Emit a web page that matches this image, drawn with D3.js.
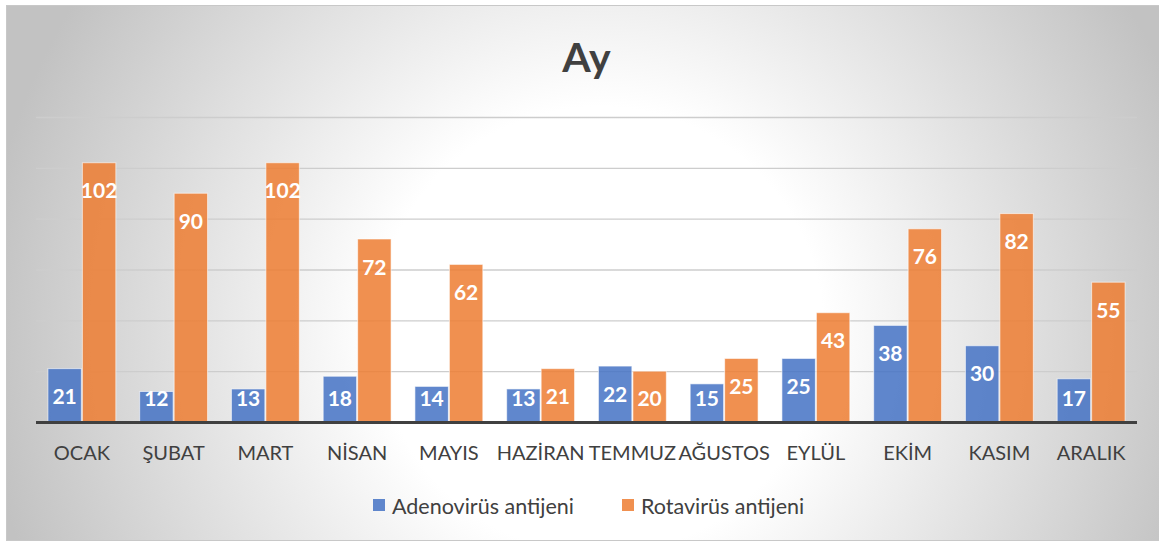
<!DOCTYPE html>
<html><head><meta charset="utf-8">
<script src="https://cdn.jsdelivr.net/npm/d3@7"></script>
<style>body{margin:0;background:#fff;}svg{display:block;}</style>
</head><body>
<svg id="c" width="1159" height="542"></svg>
<script>
const months = ["OCAK","ŞUBAT","MART","NİSAN","MAYIS","HAZİRAN","TEMMUZ","AĞUSTOS","EYLÜL","EKİM","KASIM","ARALIK"];
const seriesNames = ["Adenovirüs antijeni","Rotavirüs antijeni"];
const adeno = [21,12,13,18,14,13,22,15,25,38,30,17];
const rota = [102,90,102,72,62,21,20,25,43,76,82,55];
const yTicks = [20,40,60,80,100,120];
const title = "Ay";
const colors = ["#4472C4","#ED7D31"];

const svg = d3.select("#c");
const defs = svg.append("defs");
const rg = defs.append("radialGradient").attr("id","bg").attr("gradientUnits","userSpaceOnUse")
  .attr("cx",600).attr("cy",330).attr("r",620);
rg.append("stop").attr("offset",0).attr("stop-color","#ffffff");
rg.append("stop").attr("offset",0.36).attr("stop-color","#ffffff");
rg.append("stop").attr("offset",1).attr("stop-color","#c2c2c2");
const lg = defs.append("linearGradient").attr("id","gl").attr("gradientUnits","userSpaceOnUse")
  .attr("x1",0).attr("y1",110).attr("x2",0).attr("y2",380);
lg.append("stop").attr("offset",0).attr("stop-color","#cdcdcd");
lg.append("stop").attr("offset",1).attr("stop-color","#8c8c8c");

svg.append("rect").attr("x",6.5).attr("y",5.5).attr("width",1160).attr("height",535)
  .attr("fill","url(#bg)").attr("stroke","#c8c8c8").attr("stroke-width",1);

const left = 36, right = 1137;
const x0 = d3.scaleBand().domain(months).range([left,right]).paddingInner(0.26).paddingOuter(0.13);
const x1 = d3.scaleBand().domain(seriesNames).range([0,x0.bandwidth()]).paddingInner(0.03);
const y = d3.scaleLinear().domain([0,120]).range([422,117]);

// gridlines
const grid = svg.append("g").attr("transform",`translate(${left},0)`)
  .call(d3.axisLeft(y).tickValues(yTicks).tickSize(-(right-left)).tickFormat(""));
grid.select(".domain").remove();
grid.selectAll("line").attr("stroke","url(#gl)").attr("stroke-width",1.3);

const data = months.map((m,i)=>({m, vals:[adeno[i], rota[i]]}));
const groups = svg.append("g").selectAll("g").data(data).join("g")
  .attr("transform",d=>`translate(${x0(d.m)},0)`);
groups.selectAll("rect").data(d=>d.vals.map((v,j)=>({v,s:seriesNames[j],j}))).join("rect")
  .attr("x",d=>x1(d.s)).attr("width",x1.bandwidth())
  .attr("y",d=>y(d.v)).attr("height",d=>y(0)-y(d.v))
  .attr("fill",d=>colors[d.j]).attr("fill-opacity",0.85)
  .attr("stroke","#ffffff").attr("stroke-opacity",0.6).attr("stroke-width",1);
groups.selectAll("text").data(d=>d.vals.map((v,j)=>({v,s:seriesNames[j],j}))).join("text")
  .attr("x",d=>x1(d.s)+x1.bandwidth()/2)
  .attr("y",d=>Math.min(y(d.v)+27, y(0)-25))
  .attr("text-anchor","middle").attr("dominant-baseline","central")
  .attr("font-family","Lato, 'Open Sans', sans-serif").attr("font-weight","bold")
  .attr("font-size",21).attr("fill","#ffffff").text(d=>d.v);

// x axis
const xa = svg.append("g").attr("transform","translate(0,422)")
  .call(d3.axisBottom(x0).tickSize(0).tickPadding(0));
xa.select(".domain").remove();
xa.selectAll("text").attr("y",38).attr("dy",null)
  .attr("font-family","Lato, 'Open Sans', sans-serif").attr("font-size",20).attr("fill","#404040");
svg.append("line").attr("x1",left).attr("x2",right).attr("y1",422.5).attr("y2",422.5)
  .attr("stroke","#404040").attr("stroke-width",3);

// title
svg.append("text").attr("x",(left+right)/2).attr("y",72).attr("text-anchor","middle")
  .attr("font-family","Lato, 'Open Sans', sans-serif").attr("font-weight","bold")
  .attr("font-size",41).attr("fill","#404040").text(title);

// legend
const legX = [373, 622];
const leg = svg.append("g").selectAll("g").data(seriesNames).join("g")
  .attr("transform",(d,i)=>`translate(${legX[i]},499)`);
leg.append("rect").attr("width",12).attr("height",12).attr("fill",(d,i)=>colors[i]).attr("fill-opacity",0.85);
leg.append("text").attr("x",19).attr("y",14.5).text(d=>d)
  .attr("font-family","Lato, 'Open Sans', sans-serif").attr("font-size",21.5).attr("fill","#404040");
</script>
</body></html>
